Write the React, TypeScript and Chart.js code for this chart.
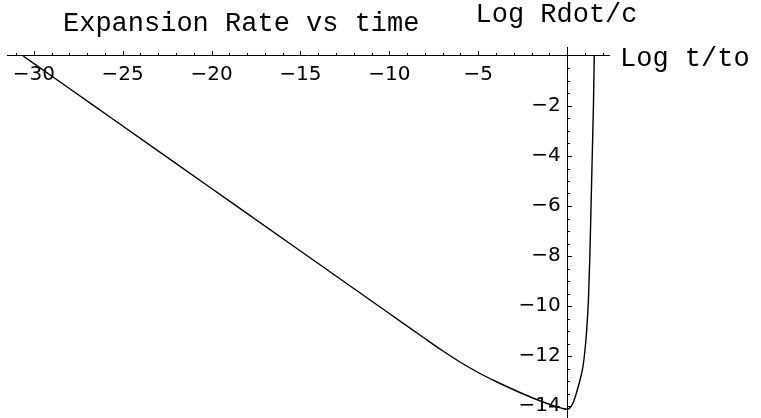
import { useEffect, useRef } from "react";
import { Chart, registerables } from "chart.js";

Chart.register(...registerables);

// ---- data ----
const LOG_T = [
  -30.6, -28, -25.5, -20, -15, -10, -8, -7, -6, -5, -4, -3, -2, -1, -0.5,
  -0.2, 0, 0.2, 0.36, 0.5, 0.73, 0.9, 1.01, 1.1, 1.2, 1.28, 1.35, 1.42, 1.49,
  1.53,
];
const LOG_RDOT = [
  0, -1.3, -2.55, -5.3, -7.8, -10.3, -11.3, -11.79, -12.25, -12.66, -13.02,
  -13.35, -13.66, -13.93, -14.05, -14.11, -14.13, -14.04, -13.84, -13.54,
  -12.96, -12.4, -11.76, -11.0, -9.8, -8.1, -6.0, -3.9, -1.8, 0,
];
const X_LABELED = [-30, -25, -20, -15, -10, -5];
const Y_LABELED = [-2, -4, -6, -8, -10, -12, -14];
const X_RANGE = [-31.51, 2.36];
const Y_RANGE = [-14.48, 0.36];
const X_MINOR_STEP = 1;
const X_MAJOR_EVERY = 5;
const Y_MINOR_STEP = 0.5;
const Y_MAJOR_EVERY = 2;
const TITLE = "Expansion Rate vs time";
const X_TITLE = "Log t/to";
const Y_TITLE = "Log Rdot/c";

const fmt = (v: number) => "\u2212" + Math.abs(v);

const decor = {
  id: "decor",
  afterDraw(chart: any) {
    const { ctx } = chart;
    const xs = chart.scales.x;
    const ys = chart.scales.y;
    const x0 = Math.round(xs.getPixelForValue(0)) + 0.5;
    const y0 = Math.round(ys.getPixelForValue(0)) - 0.5;
    ctx.save();
    ctx.strokeStyle = "#000";
    ctx.lineWidth = 1;
    ctx.beginPath();
    const nx0 = Math.ceil(xs.min / X_MINOR_STEP);
    const nx1 = Math.floor(xs.max / X_MINOR_STEP);
    for (let n = nx0; n <= nx1; n++) {
      const v = n * X_MINOR_STEP;
      if (v === 0) continue;
      const px = Math.round(xs.getPixelForValue(v)) + 0.5;
      const len = v % X_MAJOR_EVERY === 0 ? 4.5 : 2.5;
      ctx.moveTo(px, y0 + 0.5);
      ctx.lineTo(px, y0 - len);
    }
    const ny0 = Math.ceil(ys.min / Y_MINOR_STEP);
    const ny1 = Math.floor(ys.max / Y_MINOR_STEP);
    for (let n = ny0; n <= ny1; n++) {
      const v = n * Y_MINOR_STEP;
      if (v === 0) continue;
      const py = Math.round(ys.getPixelForValue(v)) + 0.5;
      const len = v % Y_MAJOR_EVERY === 0 ? 4.5 : 2.5;
      ctx.moveTo(x0 - 0.5, py);
      ctx.lineTo(x0 + len, py);
    }
    ctx.stroke();

    ctx.fillStyle = "#000";
    ctx.font = '27px "Liberation Mono", monospace';
    ctx.textAlign = "left";
    ctx.textBaseline = "alphabetic";
    ctx.fillText(TITLE, 63, 31);
    ctx.fillText(Y_TITLE, x0 - 92, 22);
    ctx.fillText(X_TITLE, xs.right + 11, y0 + 10);
    ctx.restore();
  },
};

export default function App() {
  const ref = useRef<HTMLCanvasElement>(null);
  useEffect(() => {
    if (!ref.current) return;
    const chart = new Chart(ref.current, {
      type: "line",
      data: {
        datasets: [
          {
            data: LOG_T.map((x, i) => ({ x, y: LOG_RDOT[i] })),
            borderColor: "#000",
            borderWidth: 1.4,
            pointRadius: 0,
            cubicInterpolationMode: "monotone",
            fill: false,
          },
        ],
      },
      options: {
        animation: false,
        responsive: false,
        events: [],
        layout: {
          autoPadding: false,
          padding: { left: 7, right: 152, top: 47, bottom: 0 },
        },
        plugins: { legend: { display: false }, tooltip: { enabled: false } },
        scales: {
          x: {
            type: "linear",
            position: { y: 0 },
            min: X_RANGE[0],
            max: X_RANGE[1],
            grid: { display: false, drawTicks: false },
            border: { display: true, color: "#000", width: 1 },
            ticks: {
              stepSize: 5,
              includeBounds: false,
              autoSkip: false,
              maxRotation: 0,
              padding: 7,
              color: "#000",
              font: { family: "DejaVu Sans", size: 20 },
              callback: (v: any) => (X_LABELED.includes(v) ? fmt(v) : null),
            },
            afterFit: (s: any) => {
              s.height = 0;
              s.paddingTop = 0;
              s.paddingBottom = 0;
              s.paddingLeft = 0;
              s.paddingRight = 0;
            },
          },
          y: {
            type: "linear",
            position: { x: 0 },
            min: Y_RANGE[0],
            max: Y_RANGE[1],
            grid: { display: false, drawTicks: false },
            border: { display: true, color: "#000", width: 1 },
            ticks: {
              stepSize: 2,
              includeBounds: false,
              autoSkip: false,
              padding: 6,
              color: "#000",
              font: { family: "DejaVu Sans", size: 20 },
              callback: (v: any) => (Y_LABELED.includes(v) ? fmt(v) + " " : null),
            },
            afterFit: (s: any) => {
              s.width = 0;
              s.paddingTop = 0;
              s.paddingBottom = 0;
              s.paddingLeft = 0;
              s.paddingRight = 0;
            },
          },
        },
      },
      plugins: [decor],
    });
    return () => chart.destroy();
  }, []);
  return (
    <div style={{ position: "absolute", left: 0, top: 0, width: 761, height: 418, background: "#fff" }}>
      <canvas ref={ref} width={761} height={418} style={{ width: 761, height: 418 }} />
    </div>
  );
}
